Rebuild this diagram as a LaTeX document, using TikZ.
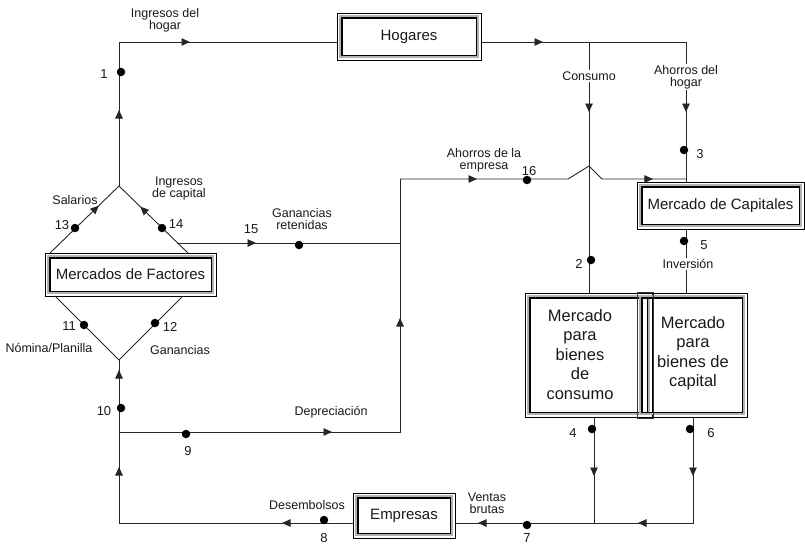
\documentclass[tikz,border=0pt]{standalone}
\usepackage{fontspec}
\setmainfont{Liberation Sans}
\usetikzlibrary{arrows.meta,decorations.markings}
\begin{document}
\begin{tikzpicture}[x=1pt,y=1pt,
  ln/.style={draw=black!85, line width=0.9pt},
  mk/.style={postaction={decorate,decoration={markings,mark=at position #1 with {\arrow{Triangle[length=8.5pt,width=7.5pt]}}}}},
  dot/.style={circle, fill=black, inner sep=0, minimum size=8.5pt},
  lbl/.style={font=\fontsize{12.5}{12}\selectfont, align=center, inner sep=0.5pt, text=black!90},
  wlbl/.style={lbl, fill=white, inner sep=1.5pt},
  num/.style={font=\fontsize{13}{13}\selectfont, inner sep=0, text=black!90},
  bigtxt/.style={font=\fontsize{16.5}{19.5}\selectfont, align=center, inner sep=0, text=black!90},
  fbox/.style={draw=black, line width=0.8pt, inner sep=0, outer sep=0, align=center, text=black!90,
    font=\fontsize{15}{18}\selectfont,
    path picture={
      \draw[gray!60, line width=2pt] ([shift={(2.6pt,-2.6pt)}]path picture bounding box.north west) rectangle ([shift={(-2.6pt,2.6pt)}]path picture bounding box.south east);
      \draw[black, line width=1.6pt] ([shift={(4.7pt,-4.7pt)}]path picture bounding box.north west) rectangle ([shift={(-4.7pt,4.7pt)}]path picture bounding box.south east);
    }},
]
\useasboundingbox (0,0) rectangle (805,-546);

% boxes
\node[fbox, minimum width=144pt, minimum height=47pt] (hog) at (409,-36.5) {Hogares};
\node[fbox, minimum width=167pt, minimum height=47pt] (cap) at (720.5,-205.5) {Mercado de Capitales};
\node[fbox, minimum width=171pt, minimum height=43pt] (fac) at (130.5,-274.5) {Mercados de Factores};
\node[fbox, minimum width=127pt, minimum height=124pt] (mcons) at (588.5,-355) {};
\node[fbox, minimum width=110pt, minimum height=124pt] (mcap) at (692,-355) {};
\node[bigtxt] (tcons) at (580,-354.5) {Mercado\\para\\bienes\\de\\consumo};
\node[bigtxt] (tcap) at (693,-353) {Mercado\\para\\bienes de\\capital};
\node[fbox, minimum width=102pt, minimum height=45pt] (emp) at (404,-515.5) {Empresas};
\draw[line width=0.6pt, black!80] (637,-292) rectangle (653,-418);

% coordinates
\coordinate (dtop) at (119,-186);
\coordinate (c1) at (119,-42);
\coordinate (c2) at (686,-42);
\coordinate (j1) at (589,-42);
\coordinate (c3) at (400,-179);
\coordinate (h1) at (568,-179);
\coordinate (h2) at (589,-166);
\coordinate (h3) at (602,-179);
\coordinate (c4) at (686,-179);
\coordinate (c5) at (119,-432);
\coordinate (c6) at (400,-432);
\coordinate (g0) at (177,-243);
\coordinate (g1) at (400,-243);
\coordinate (ul) at (50,-253);
\coordinate (ur) at (188,-253);
\coordinate (ll) at (55,-296);
\coordinate (lr) at (183,-296);
\coordinate (dbot) at (119,-360);
\coordinate (bl) at (119,-523);
\coordinate (r1) at (693,-417);
\coordinate (c8) at (693,-523);
\coordinate (l1) at (594,-417);

% connectors
\draw[ln, mk=76pt] (dtop) -- (c1);
\draw[ln, mk=71pt] (c1) -- (hog.west |- c1);
\draw[ln, mk=62pt, mk=275pt] (hog.east |- c1) -- (c2) -- (c2 |- cap.north);
\draw[ln, mk=70pt] (j1) -- (j1 |- mcons.north);
\draw[ln, mk=77pt, mk=262pt] (c3) -- (h1) -- (h2) -- (h3) -- (c4);
\draw[ln, mk=213pt, mk=395pt] (c5) -- (c6) -- (c3);
\draw[ln, mk=79pt] (g0) -- (g1);
\draw[ln, mk=68pt] (ul) -- (dtop);
\draw[ln, mk=66.5pt] (ur) -- (dtop);
\draw[ln] (ll) -- (dbot) -- (lr);
\draw[ln, mk=56pt, mk=153pt] (bl) -- (dbot);
\draw[ln, mk=71pt] (emp.west |- bl) -- (bl);
\draw[ln, mk=59pt, mk=161pt, mk=321pt] (r1) -- (c8) -- (emp.east |- c8);
\draw[ln, mk=59pt] (l1) -- (l1 |- c8);
\draw[ln] (c2 |- cap.south) -- (c2 |- mcap.north);

% dots
\node[dot] (d1) at (121,-72) {};
\node[dot] (d2) at (591,-260) {};
\node[dot] (d3) at (684,-150) {};
\node[dot] (d4) at (592,-429) {};
\node[dot] (d5) at (684,-241) {};
\node[dot] (d6) at (690,-429) {};
\node[dot] (d7) at (527,-525) {};
\node[dot] (d8) at (324,-520) {};
\node[dot] (d9) at (186,-434) {};
\node[dot] (d10) at (121,-408) {};
\node[dot] (d11) at (84,-325) {};
\node[dot] (d12) at (155,-323) {};
\node[dot] (d13) at (75,-228) {};
\node[dot] (d14) at (162,-228) {};
\node[dot] (d15) at (299,-245) {};
\node[dot] (d16) at (527,-180) {};

% labels
\node[lbl] (tIng) at (165,-20) {Ingresos del\\hogar};
\node[wlbl] (tCon) at (589,-76) {Consumo};
\node[wlbl] (tAh) at (686,-77) {Ahorros del\\hogar};
\node[lbl] (tAe) at (484,-160) {Ahorros de la\\empresa};
\node[lbl] (tSal) at (75,-200) {Salarios};
\node[lbl] (tIc) at (179,-188.5) {Ingresos\\de capital};
\node[lbl] (tGr) at (302,-219.5) {Ganancias\\retenidas};
\node[lbl] (tNom) at (49,-348) {Nómina/Planilla};
\node[lbl] (tGan) at (180,-350) {Ganancias};
\node[wlbl] (tInv) at (688,-264) {Inversión};
\node[lbl] (tDep) at (331,-412) {Depreciación};
\node[lbl] (tDes) at (307,-505) {Desembolsos};
\node[lbl] (tVen) at (487,-503) {Ventas\\brutas};

\node[num] (n1) at (104,-74) {1};
\node[num] (n2) at (579,-264) {2};
\node[num] (n3) at (700,-154) {3};
\node[num] (n4) at (573,-433) {4};
\node[num] (n5) at (704,-245) {5};
\node[num] (n6) at (711,-433) {6};
\node[num] (n7) at (527,-538.5) {7};
\node[num] (n8) at (324,-538.5) {8};
\node[num] (n9) at (188,-451) {9};
\node[num] (n10) at (104,-411) {10};
\node[num] (n11) at (69,-326) {11};
\node[num] (n12) at (170,-327) {12};
\node[num] (n13) at (62,-225) {13};
\node[num] (n14) at (176,-224) {14};
\node[num] (n15) at (251,-229) {15};
\node[num] (n16) at (529,-171) {16};
\end{tikzpicture}
\end{document}
